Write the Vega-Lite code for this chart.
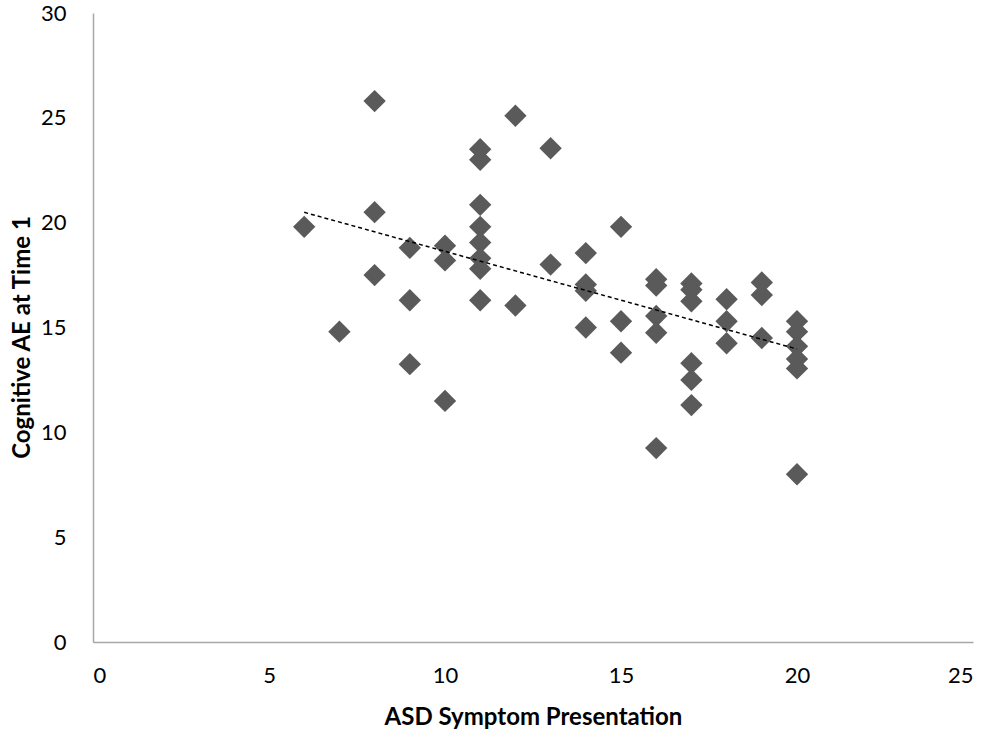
{
  "$schema": "https://vega.github.io/schema/vega-lite/v6.json",
  "description": "Cognitive AE at Time 1 against ASD symptom presentation, with linear trend line.",
  "width": 880,
  "height": 629,
  "autosize": "none",
  "padding": {"left": 93, "top": 13, "right": 19, "bottom": 97},
  "data": {
    "values": [
      {"asd": 6, "cog": 19.8},
      {"asd": 7, "cog": 14.8},
      {"asd": 8, "cog": 25.8},
      {"asd": 8, "cog": 20.5},
      {"asd": 8, "cog": 17.5},
      {"asd": 9, "cog": 18.8},
      {"asd": 9, "cog": 16.3},
      {"asd": 9, "cog": 13.25},
      {"asd": 10, "cog": 18.9},
      {"asd": 10, "cog": 18.2},
      {"asd": 10, "cog": 11.5},
      {"asd": 11, "cog": 23.5},
      {"asd": 11, "cog": 23.0},
      {"asd": 11, "cog": 20.85},
      {"asd": 11, "cog": 19.8},
      {"asd": 11, "cog": 19.05},
      {"asd": 11, "cog": 18.3},
      {"asd": 11, "cog": 17.8},
      {"asd": 11, "cog": 16.3},
      {"asd": 12, "cog": 25.1},
      {"asd": 12, "cog": 16.05},
      {"asd": 13, "cog": 23.55},
      {"asd": 13, "cog": 18.0},
      {"asd": 14, "cog": 18.55},
      {"asd": 14, "cog": 17.05},
      {"asd": 14, "cog": 16.75},
      {"asd": 14, "cog": 15.0},
      {"asd": 15, "cog": 19.8},
      {"asd": 15, "cog": 15.3},
      {"asd": 15, "cog": 13.8},
      {"asd": 16, "cog": 17.3},
      {"asd": 16, "cog": 17.0},
      {"asd": 16, "cog": 15.55},
      {"asd": 16, "cog": 14.75},
      {"asd": 16, "cog": 9.25},
      {"asd": 17, "cog": 17.1},
      {"asd": 17, "cog": 16.8},
      {"asd": 17, "cog": 16.25},
      {"asd": 17, "cog": 13.3},
      {"asd": 17, "cog": 12.5},
      {"asd": 17, "cog": 11.3},
      {"asd": 18, "cog": 16.35},
      {"asd": 18, "cog": 15.3},
      {"asd": 18, "cog": 14.25},
      {"asd": 19, "cog": 17.15},
      {"asd": 19, "cog": 16.55},
      {"asd": 19, "cog": 14.5},
      {"asd": 20, "cog": 15.3},
      {"asd": 20, "cog": 14.8},
      {"asd": 20, "cog": 14.1},
      {"asd": 20, "cog": 13.5},
      {"asd": 20, "cog": 13.05},
      {"asd": 20, "cog": 8.0}
    ]
  },
  "encoding": {
    "x": {
      "field": "asd",
      "type": "quantitative",
      "title": "ASD Symptom Presentation",
      "scale": {"domain": [0, 25], "nice": false, "zero": false},
      "axis": {"values": [0, 5, 10, 15, 20, 25], "labelPadding": 23, "titlePadding": 19}
    },
    "y": {
      "field": "cog",
      "type": "quantitative",
      "title": "Cognitive AE at Time 1",
      "scale": {"domain": [0, 30], "nice": false, "zero": false},
      "axis": {"values": [0, 5, 10, 15, 20, 25, 30], "labelPadding": 27, "titlePadding": 6, "titleY": 324}
    }
  },
  "layer": [
    {
      "mark": {"type": "point", "shape": "diamond", "filled": true, "size": 500, "color": "#5a5a5a", "opacity": 1}
    },
    {
      "transform": [{"regression": "cog", "on": "asd"}],
      "mark": {"type": "line", "color": "#000000", "strokeWidth": 1.5, "strokeDash": [4, 3]}
    }
  ],
  "config": {
    "view": {"stroke": null},
    "axis": {
      "grid": false,
      "ticks": false,
      "domainColor": "#a6a6a6",
      "domainWidth": 1.5,
      "labelFont": "Lato",
      "labelFontSize": 22,
      "labelColor": "#000000",
      "titleFont": "Lato",
      "titleFontSize": 24,
      "titleFontWeight": "bold",
      "titleColor": "#000000"
    }
  }
}
